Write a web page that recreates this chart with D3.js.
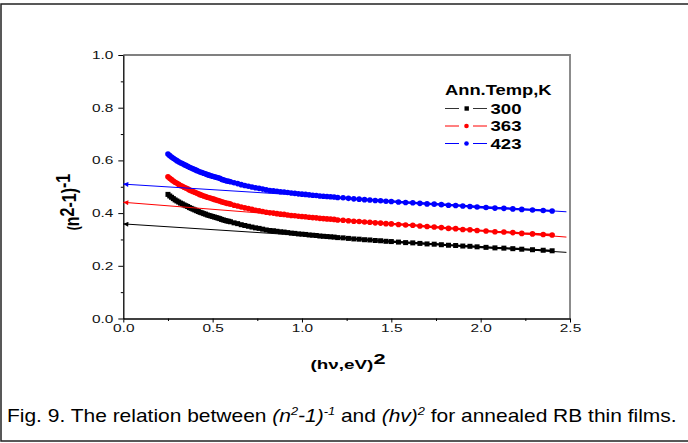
<!DOCTYPE html>
<html><head><meta charset="utf-8">
<script src="https://cdn.jsdelivr.net/npm/d3@7"></script>
<style>
body { margin: 0; background: #fff; }
text { font-family: Arial, "Liberation Sans", sans-serif; }
</style>
</head><body><script>
const w = 688;
const h = 443;

// (hv)^2 values, eV^2
const hv2 = [0.25,0.26,0.27,0.28,0.29,0.30,0.31,0.32,0.33,0.34,
  0.35,0.36,0.37,0.38,0.39,0.40,0.41,0.42,0.43,0.44,
  0.45,0.46,0.47,0.48,0.49,0.50,0.51,0.52,0.53,0.54,
  0.55,0.56,0.57,0.58,0.59,0.60,
  0.62,0.64,0.66,0.68,0.70,0.72,0.74,0.76,0.78,0.80,
  0.82,0.84,0.86,0.88,0.90,0.92,0.94,0.96,0.98,1.00,
  1.02,1.04,1.06,1.08,1.10,1.12,1.14,1.16,1.18,1.20,
  1.23,1.26,1.29,1.32,1.35,1.38,1.41,1.44,1.47,1.50,
  1.54,1.58,1.62,1.66,1.70,1.74,1.78,1.82,1.86,1.90,
  1.94,1.98,2.03,2.08,2.13,2.18,2.23,2.29,2.35,2.40];

// (n^2-1)^-1 for each annealing temperature
const n300 = [0.471,0.465,0.460,0.455,0.450,0.446,0.442,0.438,0.435,0.431,
  0.428,0.425,0.421,0.418,0.415,0.412,0.409,0.406,0.403,0.401,
  0.398,0.396,0.393,0.391,0.389,0.387,0.385,0.383,0.381,0.379,
  0.376,0.374,0.372,0.370,0.369,0.367,
  0.363,0.360,0.356,0.353,0.350,0.347,0.344,0.342,0.339,0.336,
  0.334,0.333,0.331,0.329,0.328,0.326,0.324,0.323,0.321,0.320,
  0.319,0.317,0.316,0.315,0.313,0.312,0.311,0.310,0.309,0.307,
  0.306,0.304,0.302,0.301,0.299,0.298,0.296,0.295,0.293,0.292,
  0.290,0.288,0.287,0.285,0.283,0.282,0.280,0.278,0.277,0.275,
  0.274,0.272,0.270,0.268,0.267,0.265,0.263,0.261,0.259,0.257];
const n363 = [0.538,0.532,0.527,0.522,0.517,0.513,0.509,0.505,0.502,0.498,
  0.495,0.492,0.488,0.485,0.482,0.479,0.476,0.473,0.470,0.468,
  0.465,0.463,0.460,0.458,0.456,0.454,0.452,0.450,0.448,0.446,
  0.443,0.441,0.439,0.437,0.436,0.434,
  0.430,0.427,0.423,0.420,0.417,0.414,0.411,0.409,0.406,0.403,
  0.401,0.400,0.398,0.396,0.395,0.393,0.391,0.390,0.388,0.387,
  0.386,0.384,0.383,0.382,0.380,0.379,0.378,0.377,0.376,0.374,
  0.373,0.371,0.369,0.368,0.366,0.365,0.363,0.362,0.360,0.359,
  0.357,0.355,0.354,0.351,0.349,0.347,0.345,0.342,0.341,0.338,
  0.337,0.334,0.332,0.329,0.328,0.326,0.323,0.321,0.319,0.317];
const n423 = [0.624,0.618,0.613,0.608,0.603,0.599,0.595,0.591,0.588,0.584,
  0.581,0.578,0.574,0.571,0.568,0.565,0.562,0.559,0.556,0.554,
  0.551,0.549,0.546,0.544,0.542,0.540,0.538,0.536,0.534,0.532,
  0.528,0.526,0.524,0.522,0.521,0.519,
  0.515,0.512,0.508,0.505,0.502,0.499,0.496,0.494,0.491,0.488,
  0.486,0.485,0.483,0.481,0.480,0.478,0.476,0.475,0.473,0.472,
  0.471,0.469,0.468,0.467,0.465,0.464,0.463,0.462,0.461,0.459,
  0.458,0.456,0.454,0.453,0.451,0.450,0.448,0.447,0.445,0.444,
  0.442,0.440,0.439,0.437,0.435,0.434,0.432,0.430,0.429,0.427,
  0.425,0.423,0.421,0.419,0.418,0.416,0.414,0.412,0.410,0.408];

// linear fits extrapolated to (hv)^2 = 0
const fitX = [2.48, 0];
const fit300 = [0.251, 0.359];
const fit363 = [0.309, 0.441];
const fit423 = [0.405, 0.510];

const temps = ['300', '363', '423'];
const colors = ['#000', '#f00', '#00f'];
const xTicks = [0, 0.5, 1.0, 1.5, 2.0, 2.5];
const xMinor = [0.25, 0.75, 1.25, 1.75, 2.25];
const yTicks = [0, 0.2, 0.4, 0.6, 0.8, 1.0];
const yMinor = [0.1, 0.3, 0.5, 0.7, 0.9];

const series = [n300, n363, n423];
const fits = [fit300, fit363, fit423];

const svg = d3.select('body')
  .append('svg')
  .attr('width', w)
  .attr('height', h);

// outer figure frame
svg.append('rect')
  .attr('x', 1).attr('y', 4)
  .attr('width', 700).attr('height', 437)
  .attr('fill', 'none')
  .attr('stroke', '#222')
  .attr('stroke-width', 1.5);

const x = d3.scaleLinear().domain([0, 2.5]).range([123.3, 570]);
const y = d3.scaleLinear().domain([0, 1]).range([318.5, 55]);
const sx = 1.4;

// top and right frame of the plot
svg.append('path')
  .attr('d', `M${x(0)},${y(1)}H${x(2.5)}V${y(0)}`)
  .attr('fill', 'none')
  .attr('stroke', '#808080')
  .attr('stroke-width', 1.8);

// x axis
const gx = svg.append('g').attr('transform', `translate(0,${y(0)})`);
gx.append('g').call(d3.axisBottom(x).tickValues(xMinor).tickSize(2.5).tickFormat(''))
  .select('.domain').remove();
gx.append('g').call(d3.axisBottom(x).tickValues(xTicks).tickSize(4).tickSizeOuter(0)
  .tickFormat(d3.format('.1f')));
gx.selectAll('text')
  .attr('y', 13.5).attr('dy', 0)
  .attr('font-size', 11)
  .attr('fill', '#111')
  .attr('transform', `scale(${sx},1)`);

// y axis
const gy = svg.append('g').attr('transform', `translate(${x(0)},0)`);
gy.append('g').call(d3.axisLeft(y).tickValues(yMinor).tickSize(2.5).tickFormat(''))
  .select('.domain').remove();
gy.append('g').call(d3.axisLeft(y).tickValues(yTicks).tickSize(5).tickSizeOuter(0)
  .tickFormat(d3.format('.1f')));
gy.selectAll('text')
  .attr('x', -10 / sx)
  .attr('font-size', 11)
  .attr('fill', '#111')
  .attr('transform', `scale(${sx},1)`);
svg.selectAll('.domain').attr('stroke-width', 1.3);

// arrow heads for the fit lines
const defs = svg.append('defs');
colors.forEach((c, i) => {
  defs.append('marker')
    .attr('id', 'arrow' + i)
    .attr('viewBox', '0 0 10 10')
    .attr('refX', 10).attr('refY', 5)
    .attr('markerWidth', 7).attr('markerHeight', 5)
    .attr('markerUnits', 'userSpaceOnUse')
    .attr('orient', 'auto')
    .append('path')
    .attr('d', 'M0,0L10,5L0,10Z')
    .attr('fill', c);
});

const line = d3.line()
  .x((d, i) => x(hv2[i]))
  .y(d => y(d));

series.forEach((s, k) => {
  const g = svg.append('g');
  g.append('path')
    .attr('d', line(s))
    .attr('fill', 'none')
    .attr('stroke', colors[k])
    .attr('stroke-width', 2.2);
  if (k === 0) {
    g.selectAll('rect')
      .data(s)
      .enter()
      .append('rect')
      .attr('x', (d, i) => x(hv2[i]) - 2.5)
      .attr('y', d => y(d) - 2.5)
      .attr('width', 5)
      .attr('height', 5)
      .attr('fill', colors[k]);
  } else {
    g.selectAll('circle')
      .data(s)
      .enter()
      .append('circle')
      .attr('cx', (d, i) => x(hv2[i]))
      .attr('cy', d => y(d))
      .attr('r', 2.8)
      .attr('fill', colors[k]);
  }
});

fits.forEach((f, k) => {
  svg.append('line')
    .attr('x1', x(fitX[0])).attr('y1', y(f[0]))
    .attr('x2', x(fitX[1])).attr('y2', y(f[1]))
    .attr('stroke', colors[k])
    .attr('stroke-width', 1)
    .attr('marker-end', `url(#arrow${k})`);
});

// legend
const lg = svg.append('g');
lg.append('text')
  .attr('transform', `translate(445,95) scale(1.31,1)`)
  .attr('font-size', 14)
  .attr('font-weight', 'bold')
  .text('Ann.Temp,K');
temps.forEach((t, k) => {
  const yy = 108.5 + k * 17.5;
  lg.append('line')
    .attr('x1', 445).attr('x2', 459).attr('y1', yy).attr('y2', yy)
    .attr('stroke', k === 0 ? '#333' : colors[k]).attr('stroke-width', 1);
  lg.append('line')
    .attr('x1', 473).attr('x2', 487).attr('y1', yy).attr('y2', yy)
    .attr('stroke', k === 0 ? '#333' : colors[k]).attr('stroke-width', 1);
  if (k === 0) {
    lg.append('rect').attr('x', 464.5).attr('y', yy - 2.2)
      .attr('width', 4.4).attr('height', 4.4).attr('fill', colors[k]);
  } else {
    lg.append('circle').attr('cx', 466.5).attr('cy', yy).attr('r', 2.3)
      .attr('fill', colors[k]);
  }
  lg.append('text')
    .attr('transform', `translate(490.5,${yy + 5}) scale(1.33,1)`)
    .attr('font-size', 14)
    .attr('font-weight', 'bold')
    .text(t);
});

// x axis title
const xt = svg.append('text')
  .attr('transform', `translate(348,369) scale(1.45,1)`)
  .attr('text-anchor', 'middle')
  .attr('font-size', 13)
  .attr('font-weight', 'bold');
xt.append('tspan').text('(hν,eV)');
xt.append('tspan').attr('font-size', 15).attr('dy', -5).text('2');

// y axis title
const yt = svg.append('text')
  .attr('transform', `translate(79,202) scale(1.3,1) rotate(-90)`)
  .attr('text-anchor', 'middle')
  .attr('font-size', 16)
  .attr('font-weight', 'bold');
yt.append('tspan').attr('font-size', 12).text('(');
yt.append('tspan').text('n');
yt.append('tspan').attr('dy', -4).text('2');
yt.append('tspan').attr('dy', 2).text('-1)');
yt.append('tspan').attr('dy', -5).text('-1');

// caption
const cap = svg.append('text')
  .attr('x', 0).attr('y', 0)
  .attr('font-size', 18);
cap.append('tspan').text('Fig. 9. The relation between ');
cap.append('tspan').attr('font-style', 'italic').text('(n');
cap.append('tspan').attr('font-style', 'italic').attr('font-size', 11).attr('dy', -7).text('2');
cap.append('tspan').attr('font-style', 'italic').attr('dy', 7).text('-1)');
cap.append('tspan').attr('font-style', 'italic').attr('font-size', 11).attr('dy', -7).text('-1');
cap.append('tspan').attr('dy', 7).text(' and ');
cap.append('tspan').attr('font-style', 'italic').text('(hv)');
cap.append('tspan').attr('font-style', 'italic').attr('font-size', 11).attr('dy', -7).text('2');
cap.append('tspan').attr('dy', 7).text(' for annealed RB thin films.');
const capW = cap.node().getComputedTextLength();
cap.attr('transform', `translate(7,422) scale(${670 / capW},1)`);
</script></body></html>
